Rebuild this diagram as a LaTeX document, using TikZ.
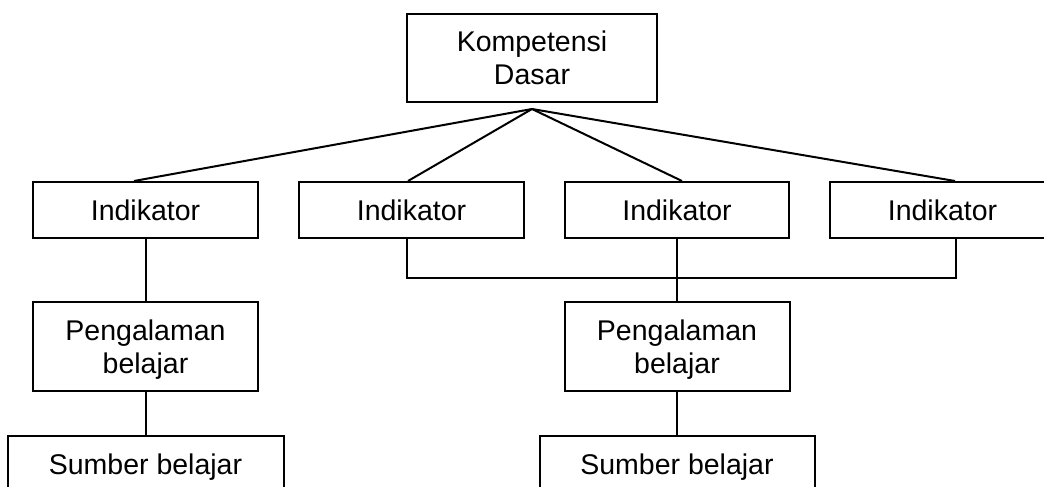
\documentclass[tikz,border=0pt]{standalone}
\usepackage{fontspec}
\setmainfont{Liberation Sans}
\begin{document}
\begin{tikzpicture}[x=1pt,y=-1pt,
  box/.style={draw=black, line width=2pt, fill=white, align=center, inner sep=0pt,
    font=\fontsize{28.5}{33}\selectfont, text depth=0pt},
  conn/.style={draw=black, line width=2pt}]
\useasboundingbox (0,0) rectangle (1044,487);
\fill[white] (0,0) rectangle (1044,487);
% top
\node[box, minimum width=250pt, minimum height=88pt] (kd) at (532,58) {Kompetensi\\Dasar};
\coordinate (apex) at (532,109);
% indicators
\node[box, minimum width=225pt, minimum height=56pt] (i1) at (145.5,210) {Indikator};
\node[box, minimum width=225pt, minimum height=56pt] (i2) at (411.5,210) {Indikator};
\node[box, minimum width=224pt, minimum height=56pt] (i3) at (677,210) {Indikator};
\node[box, minimum width=225pt, minimum height=56pt] (i4) at (942.5,210) {Indikator};
% experience
\node[box, minimum width=225pt, minimum height=89pt] (p1) at (145.5,346.5) {Pengalaman\\belajar};
\node[box, minimum width=225pt, minimum height=89pt] (p2) at (677,346.5) {Pengalaman\\belajar};
% sources
\node[box, minimum width=276pt, minimum height=56pt] (s1) at (145.5,464) {Sumber belajar};
\node[box, minimum width=275pt, minimum height=56pt] (s2) at (677,464) {Sumber belajar};
% connectors
\coordinate (junction) at (677,278);
\draw[conn] (apex) -- ([xshift=-11.5pt]i1.north);
\draw[conn] (apex) -- ([xshift=-3.5pt]i2.north);
\draw[conn] (apex) -- ([xshift=5pt]i3.north);
\draw[conn] (apex) -- ([xshift=12.5pt]i4.north);
\draw[conn] (i1.south) -- (p1.north);
\draw[conn] (p1.south) -- (s1.north);
\draw[conn] ([xshift=-4.5pt]i2.south) |- (junction) -| ([xshift=13.5pt]i4.south);
\draw[conn] (i3.south) -- (p2.north);
\draw[conn] (p2.south) -- (s2.north);
\end{tikzpicture}
\end{document}
